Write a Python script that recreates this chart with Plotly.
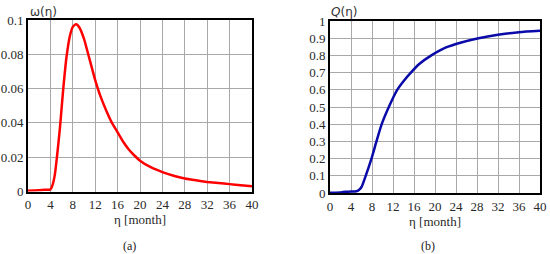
import plotly.graph_objs as go

# omega(eta) - density
eta_w = [0, 1, 2, 3, 4, 4.4, 4.8, 5.2, 5.7, 6.3, 6.9, 7.5, 8.0, 8.6, 9.2, 10, 11, 12, 13, 14, 15, 16,
         17, 18, 19, 20, 22, 24, 26, 28, 30, 32, 34, 36, 38, 40]
omega = [0.0005, 0.0006, 0.0008, 0.001, 0.0012, 0.004, 0.010, 0.021, 0.037, 0.060, 0.079, 0.091, 0.096,
         0.0975, 0.0955, 0.089, 0.077, 0.065, 0.055, 0.047, 0.040, 0.0345, 0.029, 0.0245, 0.021, 0.018,
         0.014, 0.0113, 0.0092, 0.0076, 0.0065, 0.0056, 0.0049, 0.0043, 0.0037, 0.003]

# Q(eta) - cumulative
eta_q = [0, 1, 2, 2.5, 3, 4, 5, 5.5, 6, 6.8, 7.9, 8.85, 9.85, 11.2, 12.8, 14, 15.4, 17, 19.3, 22, 25,
         28.3, 32, 36, 40]
q_val = [0.002, 0.002, 0.003, 0.006, 0.007, 0.008, 0.01, 0.018, 0.035, 0.1, 0.2, 0.3, 0.4, 0.5,
         0.6, 0.65, 0.7, 0.75, 0.8, 0.845, 0.875, 0.9, 0.92, 0.935, 0.943]

W, H = 550, 254


def xp(px):
    return px / W


def yp(py):
    return 1 - py / H


serif = 'Liberation Serif, Times New Roman, DejaVu Serif, serif'
tick_font = dict(family=serif, size=13, color='#2a2a2a')

fig = go.Figure()
fig.add_trace(go.Scatter(x=eta_w, y=omega, mode='lines', xaxis='x', yaxis='y',
                         line=dict(color='#ff0000', width=2.5, shape='spline', smoothing=0.6),
                         showlegend=False))
fig.add_trace(go.Scatter(x=eta_q, y=q_val, mode='lines', xaxis='x2', yaxis='y2',
                         line=dict(color='#0a0aa8', width=2.5, shape='spline', smoothing=0.6),
                         showlegend=False))

axis_common = dict(showgrid=True, gridcolor='#a8a8a8', gridwidth=1, zeroline=False,
                   showline=True, mirror=True, linecolor='black', linewidth=2,
                   ticks='', tickfont=tick_font, fixedrange=True, automargin=False)

xtitle = dict(text='η [month]', font=dict(family=serif, size=13, color='#2a2a2a'), standoff=2)

fig.update_layout(
    width=W, height=H,
    margin=dict(l=0, r=0, t=0, b=0),
    paper_bgcolor='white', plot_bgcolor='white',
    xaxis=dict(domain=[xp(28), xp(252)], range=[0, 40], dtick=4, anchor='y', title=xtitle,
               **axis_common),
    yaxis=dict(domain=[yp(191.5), yp(20)], range=[0, 0.1], dtick=0.02, anchor='x',
               **axis_common),
    xaxis2=dict(domain=[xp(330), xp(540)], range=[0, 40], dtick=4, anchor='y2', title=xtitle,
                **axis_common),
    yaxis2=dict(domain=[yp(193), yp(21)], range=[0, 1], dtick=0.1, anchor='x2',
                **axis_common),
    annotations=[
        dict(text='ω(η)', x=xp(43), y=yp(12), xref='paper', yref='paper', showarrow=False,
             xanchor='center', yanchor='middle', font=dict(family='DejaVu Sans', size=12, color='#333')),
        dict(text='<i>Q</i>(η)', x=xp(344), y=yp(12), xref='paper', yref='paper', showarrow=False,
             xanchor='center', yanchor='middle', font=dict(family='DejaVu Sans', size=12, color='#333')),
        dict(text='(a)', x=xp(129), y=yp(246), xref='paper', yref='paper', showarrow=False,
             xanchor='center', yanchor='middle', font=dict(family=serif, size=12, color='#222')),
        dict(text='(b)', x=xp(428), y=yp(246), xref='paper', yref='paper', showarrow=False,
             xanchor='center', yanchor='middle', font=dict(family=serif, size=12, color='#222')),
    ],
)

# drop the browser's default 8px body margin so the figure fills the window
fig.write_html("out.html", config={'displayModeBar': False},
               post_script="document.body.style.margin='0px';")
